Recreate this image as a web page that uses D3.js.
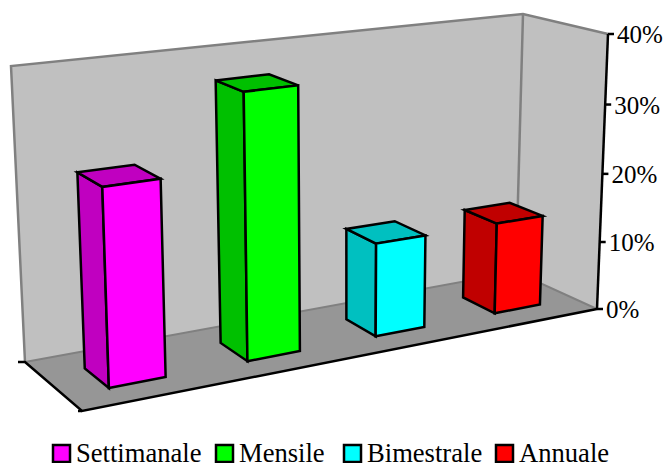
<!DOCTYPE html>
<html>
<head>
<meta charset="utf-8">
<script src="https://cdn.jsdelivr.net/npm/d3@7"></script>
<style>
  html, body { margin: 0; padding: 0; background: #fff; overflow: hidden; }
  text { font-family: "Liberation Serif", serif; fill: #000; }
</style>
</head>
<body>
<div id="chart"></div>
<script>
// chart data
let categories = ["Settimanale", "Mensile", "Bimestrale", "Annuale"];
let values = [0.266, 0.366, 0.133, 0.133];
let tickValues = [0, 0.1, 0.2, 0.3, 0.4];
let frontColors = ["#ff00ff", "#00ff00", "#00ffff", "#ff0000"];
let sideColors = ["#c000c0", "#00c000", "#00c0c0", "#c00000"];

let width = 665;
let height = 463;

let svg = d3.select("#chart").append("svg")
  .attr("width", width)
  .attr("height", height);

// Screen position of the 8 corners of the plot box, as [front/back][left/right][bottom/top]
let box = {
  front: { left: { bottom: [82, 411], top: [71, 96] }, right: { bottom: [597, 309], top: [608, 34] } },
  back: { left: { bottom: [25, 362], top: [11, 66] }, right: { bottom: [516, 272], top: [523, 14] } }
};

// Foreshortening along the long side of the floor and, a little, up the walls
let foreshorten = (u, k) => u / (u + k * (1 - u));

// u, v, w all go 0..1: along the categories, front to back, floor to top
function project(u, v, w) {
  let t = foreshorten(u, 0.86);
  let h = foreshorten(w, 1.035);
  let mix = (a, b, f) => d3.interpolateArray(a, b)(f);
  let edge = (depth, side) => mix(box[depth][side].bottom, box[depth][side].top, h);
  let front = mix(edge("front", "left"), edge("front", "right"), t);
  let back = mix(edge("back", "left"), edge("back", "right"), t);
  return mix(front, back, v);
}

let xBand = d3.scaleBand()
  .domain(categories)
  .range([0, 1])
  .paddingInner(0.6)
  .paddingOuter(0.3);

let depth = d3.scaleBand()
  .domain(["bars"])
  .range([0, 1])
  .padding(0.42);

let y = d3.scaleLinear().domain([0, 0.4]).range([0, 1]);

let line = d3.line();
let closed = pts => line(pts) + "Z";

// Walls and floor
let wallFill = "#c0c0c0";
let wallStroke = "#808080";
svg.append("path")
  .attr("d", closed([project(0, 1, 0), project(0, 1, 1), project(1, 1, 1), project(1, 1, 0)]))
  .attr("fill", wallFill);
svg.append("path")
  .attr("d", closed([project(1, 1, 0), project(1, 1, 1), project(1, 0, 1), project(1, 0, 0)]))
  .attr("fill", wallFill);
svg.append("path")
  .attr("d", closed([project(0, 0, 0), project(0, 1, 0), project(1, 1, 0), project(1, 0, 0)]))
  .attr("fill", "#969696");

svg.append("path")
  .attr("d", line([project(0, 1, 0), project(0, 1, 1), project(1, 1, 1), project(1, 0, 1)]))
  .attr("fill", "none").attr("stroke", wallStroke).attr("stroke-width", 2.5);
svg.append("path")
  .attr("d", line([project(1, 1, 1), project(1, 1, 0)]))
  .attr("fill", "none").attr("stroke", wallStroke).attr("stroke-width", 2.5);
svg.append("path")
  .attr("d", line([project(0, 1, 0), project(1, 1, 0), project(1, 0, 0)]))
  .attr("fill", "none").attr("stroke", wallStroke).attr("stroke-width", 2);

// Floor edges, black, with the little category end ticks
let black = (pts, w) => svg.append("path")
  .attr("d", line(pts))
  .attr("fill", "none")
  .attr("stroke", "#000")
  .attr("stroke-width", w)
  .attr("stroke-linejoin", "miter");

let backLeft = project(0, 1, 0);
let frontLeft = project(0, 0, 0);
black([[backLeft[0] - 7, backLeft[1]], backLeft, frontLeft, project(1, 0, 0)], 2.5);
black([[frontLeft[0] - 4, frontLeft[1]], frontLeft], 2.5);

// Value axis running up the front right edge
black([project(1, 0, y(0)), project(1, 0, y(0.4))], 2.5);
let pct = d3.format(".0%");
tickValues.forEach(d => {
  let p = project(1, 0, y(d));
  black([p, [p[0] + 6, p[1]]], 2.5);
  svg.append("text")
    .attr("x", p[0] + 9)
    .attr("y", p[1] + 9)
    .attr("font-size", 25)
    .text(pct(d));
});

// Bars
let bars = svg.selectAll(".bar")
  .data(categories)
  .enter().append("g")
  .attr("class", "bar")
  .attr("stroke", "#000")
  .attr("stroke-width", 2.5)
  .attr("stroke-linejoin", "miter");

function barFaces(i) {
  let u0 = xBand(categories[i]);
  let u1 = u0 + xBand.bandwidth();
  let v0 = depth("bars");
  let v1 = v0 + depth.bandwidth();
  let w = y(values[i]);
  return {
    front: [project(u0, v0, 0), project(u1, v0, 0), project(u1, v0, w), project(u0, v0, w)],
    side: [project(u0, v0, 0), project(u0, v0, w), project(u0, v1, w), project(u0, v1, 0)],
    top: [project(u0, v0, w), project(u1, v0, w), project(u1, v1, w), project(u0, v1, w)]
  };
}

bars.append("path")
  .attr("d", (d, i) => closed(barFaces(i).side))
  .attr("fill", (d, i) => sideColors[i]);
bars.append("path")
  .attr("d", (d, i) => closed(barFaces(i).top))
  .attr("fill", (d, i) => sideColors[i]);
bars.append("path")
  .attr("d", (d, i) => closed(barFaces(i).front))
  .attr("fill", (d, i) => frontColors[i]);

// Legend
let legendX = [53, 216, 344, 496];
let legend = svg.selectAll(".legend")
  .data(categories)
  .enter().append("g")
  .attr("class", "legend")
  .attr("transform", (d, i) => "translate(" + legendX[i] + ",445)");

legend.append("rect")
  .attr("width", 17)
  .attr("height", 17)
  .attr("fill", (d, i) => frontColors[i])
  .attr("stroke", "#000")
  .attr("stroke-width", 2.5);

legend.append("text")
  .attr("x", 23)
  .attr("y", 17)
  .attr("font-size", 26.6)
  .text(d => d);
</script>
</body>
</html>
